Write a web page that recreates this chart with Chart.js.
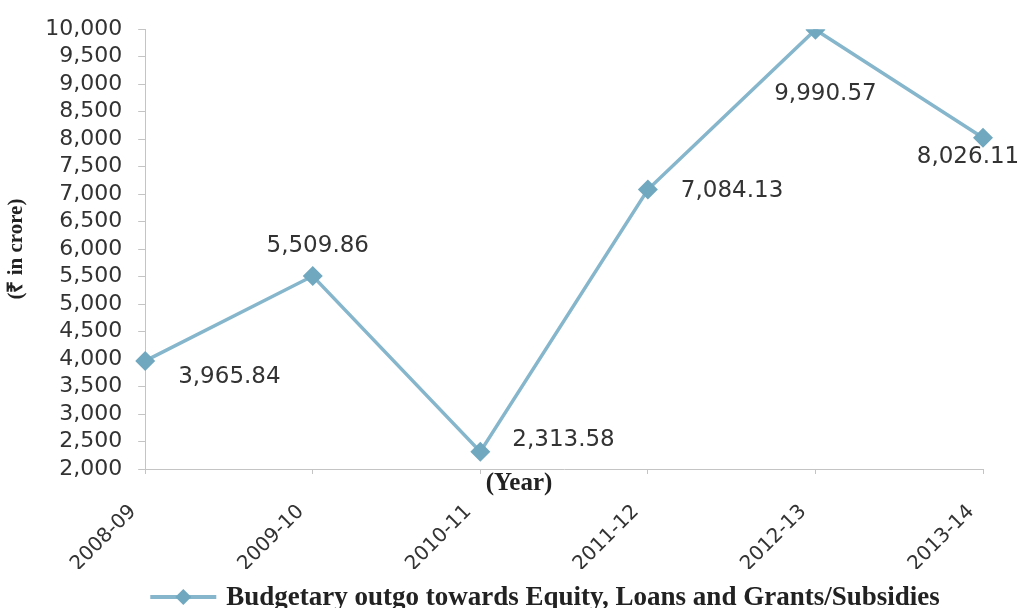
<!DOCTYPE html>
<html>
<head>
<meta charset="utf-8">
<script src="https://cdn.jsdelivr.net/npm/chart.js@4.4.0/dist/chart.umd.min.js"></script>
<style>
  body { margin: 0; background: #ffffff; }
  #wrap { width: 1026px; height: 608px; }
</style>
</head>
<body>
<div id="wrap"><canvas id="outgo"></canvas></div>
<script>
// Data
var years = ['2008-09', '2009-10', '2010-11', '2011-12', '2012-13', '2013-14'];
var outgo = [3965.84, 5509.86, 2313.58, 7084.13, 9990.57, 8026.11];
var seriesName = 'Budgetary outgo towards Equity, Loans and Grants/Subsidies';
// where each value label sits relative to its point: [dx, dy, align]
var labelPlace = [[33, 16, 'left'], [5, -30, 'center'], [32, -12, 'left'], [33, 2, 'left'], [10, 64, 'center'], [-15, 19, 'center']];

var lineColor = '#86b6cc';
var markColor = '#70a8c0';
var axisColor = '#c4c4c4';

// value labels, "(Year)" title and the legend row
var extras = {
  id: 'extras',
  afterDatasetsDraw: function (chart) {
    var ctx = chart.ctx;
    var meta = chart.getDatasetMeta(0);
    ctx.save();
    ctx.font = '23px "DejaVu Sans"';
    ctx.fillStyle = '#333333';
    ctx.textBaseline = 'middle';
    meta.data.forEach(function (pt, i) {
      var p = labelPlace[i];
      ctx.textAlign = p[2];
      ctx.fillText(outgo[i].toLocaleString('en-US', {minimumFractionDigits: 2}), pt.x + p[0], pt.y + p[1]);
    });

    ctx.font = 'bold 25px "Liberation Serif"';
    ctx.fillStyle = '#222222';
    ctx.textAlign = 'center';
    ctx.fillText('(Year)', chart.width / 2 + 6, chart.chartArea.bottom + 15);

    // legend
    ctx.font = 'bold 27px "Liberation Serif"';
    var w = ctx.measureText(seriesName).width;
    var total = 66 + 10 + w;
    var x0 = chart.width / 2 + 32 - total / 2;
    var y0 = chart.height - 11;
    ctx.strokeStyle = lineColor; ctx.lineWidth = 4;
    ctx.beginPath(); ctx.moveTo(x0, y0); ctx.lineTo(x0 + 66, y0); ctx.stroke();
    ctx.fillStyle = markColor;
    ctx.beginPath();
    ctx.moveTo(x0 + 33, y0 - 8); ctx.lineTo(x0 + 41, y0); ctx.lineTo(x0 + 33, y0 + 8); ctx.lineTo(x0 + 25, y0);
    ctx.closePath(); ctx.fill();
    ctx.fillStyle = '#222222';
    ctx.textAlign = 'left';
    ctx.fillText(seriesName, x0 + 76, y0 + 1);
    ctx.restore();
  }
};

var ctx = document.getElementById('outgo').getContext('2d');
var chart = new Chart(ctx, {
  type: 'line',
  data: {
    labels: years,
    datasets: [{
      label: seriesName,
      data: outgo,
      borderColor: lineColor,
      backgroundColor: markColor,
      borderWidth: 3.5,
      tension: 0,
      pointStyle: 'rectRot',
      pointRadius: 10,
      pointBackgroundColor: markColor,
      pointBorderColor: markColor,
      pointBorderWidth: 0
    }]
  },
  options: {
    responsive: true,
    maintainAspectRatio: false,
    animation: false,
    layout: { autoPadding: false, padding: { left: 2, right: 43, top: 12, bottom: 39 } },
    plugins: {
      tooltip: { enabled: false },
      legend: { display: false }
    },
    scales: {
      x: {
        offset: false,
        grid: { drawOnChartArea: false, drawTicks: true, tickLength: 5, color: axisColor },
        border: { display: true, color: axisColor, dash: [3, 3] },
        ticks: {
          color: '#333333',
          font: { family: '"DejaVu Sans"', size: 20 },
          minRotation: 45, maxRotation: 45,
          padding: 26,
          labelOffset: -12
        },
        afterFit: function (scale) { scale.height = 100; }
      },
      y: {
        min: 2000,
        max: 10000,
        grid: { drawOnChartArea: false, drawTicks: true, tickLength: 7, color: axisColor },
        border: { display: true, color: axisColor, dash: [3, 3] },
        ticks: {
          stepSize: 500,
          autoSkip: false,
          color: '#333333',
          padding: 16,
          font: { family: '"DejaVu Sans"', size: 22 },
          callback: function (v) { return v.toLocaleString('en-US'); }
        },
        title: {
          display: true,
          text: '(₹ in crore)',
          color: '#222222',
          font: { family: '"Liberation Serif"', weight: 'bold', size: 21 },
          padding: { top: 2, bottom: 0 }
        }
      }
    }
  },
  plugins: [extras]
});
</script>
</body>
</html>
